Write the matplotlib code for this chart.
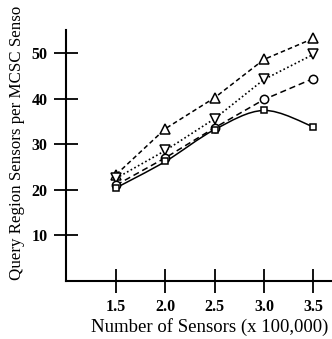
import matplotlib
matplotlib.use("Agg")
import matplotlib.pyplot as plt
import numpy as np
from matplotlib.path import Path
from matplotlib.patches import PathPatch

plt.rcParams["font.family"] = ["Liberation Serif", "DejaVu Serif"]
plt.rcParams["font.size"] = 12

# data
sensors = [1.5, 2.0, 2.5, 3.0, 3.5]
tri_up = [23.3, 33.4, 40.2, 48.6, 53.2]
tri_down = [22.5, 28.6, 35.6, 44.2, 49.7]
circles = [21.0, 27.0, 33.6, 39.8, 44.4]
squares = [20.4, 26.2, 33.2, 37.4, 33.8]

x_ticks = [1.5, 2.0, 2.5, 3.0, 3.5]
x_tick_labels = ["1.5", "2.0", "2.5", "3.0", "3.5"]
y_ticks = [10, 20, 30, 40, 50]


def smooth_path(xs, ys):
    # Catmull-Rom through the points, drawn as cubic bezier segments
    pts = np.column_stack([xs, ys])
    verts = [pts[0]]
    codes = [Path.MOVETO]
    for i in range(len(pts) - 1):
        p0 = pts[i - 1] if i > 0 else pts[i]
        p1 = pts[i]
        p2 = pts[i + 1]
        p3 = pts[i + 2] if i + 2 < len(pts) else pts[i + 1]
        c1 = p1 + (p2 - p0) / 6.0
        c2 = p2 - (p3 - p1) / 6.0
        verts += [c1, c2, p2]
        codes += [Path.CURVE4] * 3
    return Path(verts, codes)


fig = plt.figure(figsize=(3.32, 3.39), dpi=100)
ax = fig.add_axes([0.199, 0.172, 0.801, 0.74])

ms = 6.5
ax.plot(sensors, tri_up, linestyle=(0, (3, 2)), color="black", lw=1.1,
        marker="^", ms=ms, mfc="white", mec="black", mew=1.1)
ax.plot(sensors, tri_down, linestyle=(0, (1, 1.5)), color="black", lw=1.2,
        marker="v", ms=ms, mfc="white", mec="black", mew=1.1)
ax.plot(sensors, circles, linestyle=(0, (4, 2.5)), color="black", lw=1.1,
        marker="o", ms=ms - 0.5, mfc="white", mec="black", mew=1.1)
ax.add_patch(PathPatch(smooth_path(sensors, squares), fill=False,
                       edgecolor="black", lw=1.1))
ax.plot(sensors, squares, linestyle="none",
        marker="s", ms=ms - 1.5, mfc="white", mec="black", mew=1.1, zorder=3)

ax.set_xlim(0.992, 3.69)
ax.set_ylim(0, 55.1)
ax.set_xticks(x_ticks)
ax.set_xticklabels(x_tick_labels)
ax.set_yticks(y_ticks)

for side in ["top", "right"]:
    ax.spines[side].set_visible(False)
for side in ["left", "bottom"]:
    ax.spines[side].set_linewidth(1.5)

ax.tick_params(axis="both", direction="inout", length=17, width=1.3,
               labelsize=11.5)
ax.tick_params(axis="x", pad=5)
ax.tick_params(axis="y", pad=5)
for lbl in ax.get_xticklabels() + ax.get_yticklabels():
    lbl.set_fontweight("bold")

ax.set_xlabel("Number of Sensors (x 100,000)", fontsize=13.5)
ax.xaxis.set_label_coords(0.54, -0.148)
fig.text(17 / 332, 1 - 280 / 339, "Query Region Sensors per MCSC Senso",
         rotation=90, rotation_mode="anchor", ha="left", va="center",
         fontsize=12.2)

fig.savefig("out.png", dpi=100)
